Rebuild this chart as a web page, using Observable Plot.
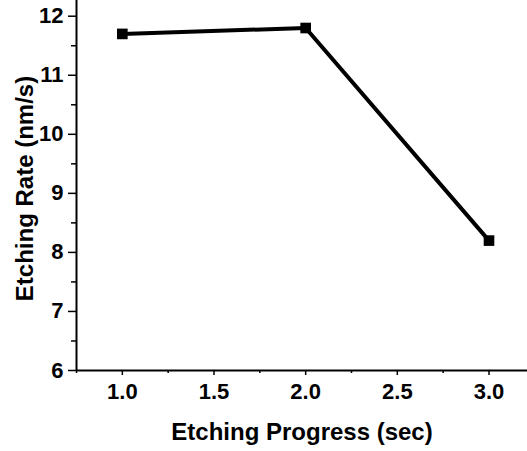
<!DOCTYPE html>
<html>
<head>
<meta charset="utf-8">
<script src="https://cdn.jsdelivr.net/npm/d3@7"></script>
<script src="https://cdn.jsdelivr.net/npm/@observablehq/plot@0.6"></script>
<style>
  html, body { margin: 0; padding: 0; background: white; }
</style>
</head>
<body>
<div id="chart"></div>
<script>
const progress = [1.0, 2.0, 3.0];
const rate = [11.7, 11.8, 8.2];
const xMajorTicks = [1.0, 1.5, 2.0, 2.5, 3.0];
const xMinorTicks = [0.75, 1.25, 1.75, 2.25, 2.75];
const yMajorTicks = [6, 7, 8, 9, 10, 11, 12];
const yMinorTicks = [6.5, 7.5, 8.5, 9.5, 10.5, 11.5];
const xTitle = "Etching Progress (sec)";
const yTitle = "Etching Rate (nm/s)";

const data = progress.map((x, i) => ({x, y: rate[i]}));

const chart = Plot.plot({
  width: 527,
  height: 451,
  marginLeft: 76,
  marginRight: 0,
  marginTop: 0,
  marginBottom: 81,
  x: {domain: [0.75, 3.21]},
  y: {domain: [6, 12.266]},
  style: {fontFamily: "'Liberation Sans', Arial, sans-serif", fontWeight: "bold", color: "black", background: "white"},
  marks: [
    Plot.axisX(xMinorTicks, {tickSize: 3, tickFormat: () => "", label: null, strokeWidth: 1.5}),
    Plot.axisX(xMajorTicks, {tickSize: 5, tickPadding: 8, tickFormat: d3.format(".1f"), fontSize: 22, label: null, strokeWidth: 1.5}),
    Plot.axisY(yMinorTicks, {tickSize: 5, tickFormat: () => "", label: null, strokeWidth: 1.5}),
    Plot.axisY(yMajorTicks, {tickSize: 8, tickPadding: 5, tickFormat: d3.format("d"), fontSize: 22, label: null, strokeWidth: 1.5}),
    Plot.ruleY([6], {strokeWidth: 2}),
    Plot.ruleX([0.75], {strokeWidth: 2}),
    Plot.line(data, {x: "x", y: "y", stroke: "black", strokeWidth: 4}),
    Plot.dot(data, {x: "x", y: "y", symbol: "square", r: 6, fill: "black", stroke: null}),
    Plot.text([xTitle], {frameAnchor: "bottom", dy: 62, fontSize: 24, textAnchor: "middle", lineAnchor: "middle"}),
    Plot.text([yTitle], {frameAnchor: "left", rotate: -90, dx: -51, dy: 3, fontSize: 24, textAnchor: "middle", lineAnchor: "middle"})
  ]
});
document.getElementById("chart").appendChild(chart);
</script>
</body>
</html>
